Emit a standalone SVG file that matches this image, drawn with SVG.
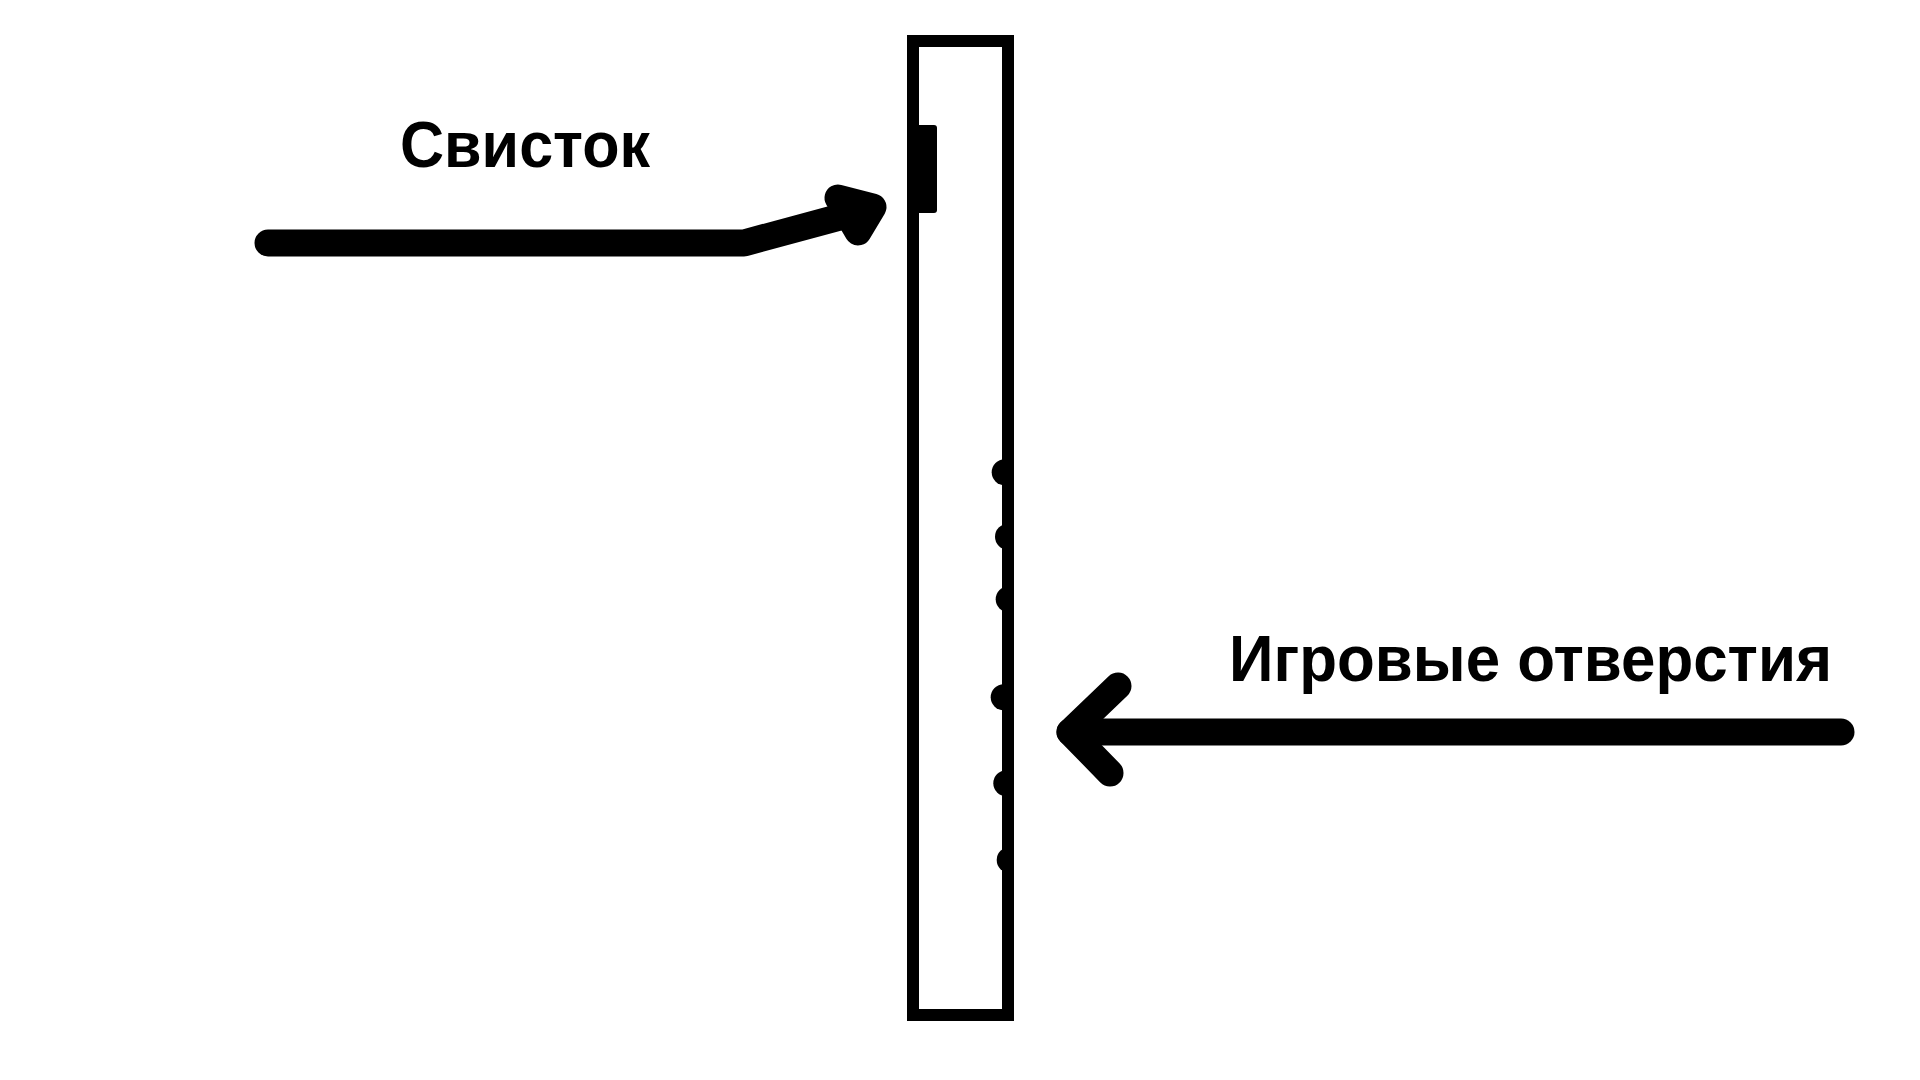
<svg xmlns="http://www.w3.org/2000/svg" width="1920" height="1080" viewBox="0 0 1920 1080">
  <style>
    .lbl { font-family: "Liberation Sans", Arial, sans-serif; font-weight: bold; font-size: 64px; fill: #000; }
    .conn { fill: none; stroke: #000; stroke-width: 27; stroke-linecap: round; stroke-linejoin: round; }
    .head { fill: #000; stroke: #000; stroke-width: 27; stroke-linejoin: round; }
    .wall { fill: none; stroke: #000; stroke-width: 12; }
  </style>
  <defs>
    <clipPath id="holeClip">
      <rect x="900" y="0" width="108" height="1080"/>
    </clipPath>
  </defs>
  <rect width="1920" height="1080" fill="#fff"/>

  <g id="flute">
    <rect class="wall" x="913" y="41" width="95" height="974"/>
    <rect x="907" y="125" width="30" height="88" rx="3" fill="#000"/>
    <g id="holes" clip-path="url(#holeClip)" fill="#000">
      <circle cx="1004.7" cy="472.3" r="13"/>
      <circle cx="1008" cy="536.7" r="13"/>
      <circle cx="1008.7" cy="599.3" r="13"/>
      <circle cx="1003.7" cy="697.3" r="13"/>
      <circle cx="1006.3" cy="783.3" r="13"/>
      <circle cx="1009.7" cy="860" r="13"/>
    </g>
  </g>

  <g id="label-whistle">
    <text class="lbl" x="400" y="166.5" textLength="250" lengthAdjust="spacingAndGlyphs">Свисток</text>
  </g>
  <g id="label-holes">
    <text class="lbl" x="1229" y="681" textLength="603" lengthAdjust="spacingAndGlyphs">Игровые отверстия</text>
  </g>

  <g id="connectors">
    <polyline class="conn" points="268,243 744,243 866,210"/>
    <polygon class="head" points="838,198 873,207 858,232"/>
    <polyline class="conn" points="1841,732 1070,732"/>
    <polyline class="conn" points="1118,686 1070,732 1110,773"/>
  </g>
</svg>
